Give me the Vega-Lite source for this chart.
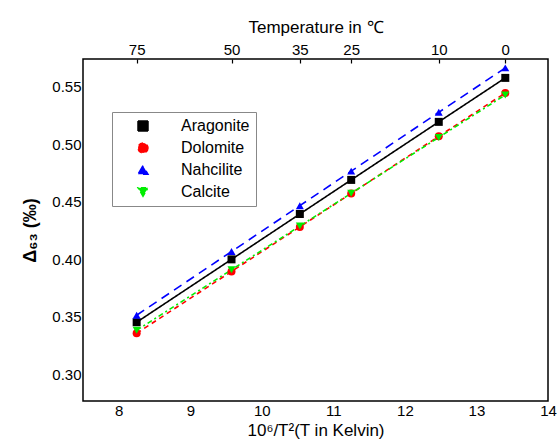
{
  "$schema": "https://vega.github.io/schema/vega-lite/v6.json",
  "autosize": "none",
  "width": 465,
  "height": 342,
  "padding": {"left": 83, "top": 59, "right": 9, "bottom": 43},
  "background": "white",
  "config": {
    "font": "Liberation Sans",
    "view": {"stroke": "black", "strokeWidth": 1.5},
    "axis": {"grid": false, "domain": false, "labelColor": "black", "titleColor": "black", "labelFont": "Liberation Sans", "titleFont": "Liberation Sans"}
  },
  "data": {
    "values": [
      {"mineral": "Aragonite", "x": 8.250, "y": 0.3454},
      {"mineral": "Aragonite", "x": 9.576, "y": 0.4000},
      {"mineral": "Aragonite", "x": 10.531, "y": 0.4394},
      {"mineral": "Aragonite", "x": 11.249, "y": 0.4690},
      {"mineral": "Aragonite", "x": 12.473, "y": 0.5194},
      {"mineral": "Aragonite", "x": 13.403, "y": 0.5576},
      {"mineral": "Dolomite", "x": 8.250, "y": 0.3358},
      {"mineral": "Dolomite", "x": 9.576, "y": 0.3895},
      {"mineral": "Dolomite", "x": 10.531, "y": 0.4282},
      {"mineral": "Dolomite", "x": 11.249, "y": 0.4573},
      {"mineral": "Dolomite", "x": 12.473, "y": 0.5069},
      {"mineral": "Dolomite", "x": 13.403, "y": 0.5445},
      {"mineral": "Nahcilite", "x": 8.250, "y": 0.3515},
      {"mineral": "Nahcilite", "x": 9.576, "y": 0.4068},
      {"mineral": "Nahcilite", "x": 10.531, "y": 0.4466},
      {"mineral": "Nahcilite", "x": 11.249, "y": 0.4766},
      {"mineral": "Nahcilite", "x": 12.473, "y": 0.5277},
      {"mineral": "Nahcilite", "x": 13.403, "y": 0.5663},
      {"mineral": "Calcite", "x": 8.250, "y": 0.3384},
      {"mineral": "Calcite", "x": 9.576, "y": 0.3910},
      {"mineral": "Calcite", "x": 10.531, "y": 0.4289},
      {"mineral": "Calcite", "x": 11.249, "y": 0.4574},
      {"mineral": "Calcite", "x": 12.473, "y": 0.5059},
      {"mineral": "Calcite", "x": 13.403, "y": 0.5428}
    ]
  },
  "resolve": {"axis": {"x": "independent"}},
  "layer": [
    {
      "mark": {"type": "line", "strokeWidth": 1.6, "clip": false},
      "encoding": {
        "x": {
          "field": "x", "type": "quantitative",
          "scale": {"domain": [7.5, 14], "nice": false, "zero": false},
          "axis": {"orient": "bottom", "values": [8, 9, 10, 11, 12, 13, 14], "ticks": false, "labelPadding": 2, "labelFontSize": 15, "labelFlush": false, "title": "10⁶/T²(T in Kelvin)", "titleFontSize": 17, "titleFontWeight": "normal", "titlePadding": 4}
        },
        "y": {
          "field": "y", "type": "quantitative",
          "scale": {"domain": [0.277, 0.574], "nice": false, "zero": false},
          "axis": {"values": [0.30, 0.35, 0.40, 0.45, 0.50, 0.55], "format": ".2f", "ticks": false, "labelPadding": 2, "labelFontSize": 15, "title": "Δ₆₃ (‰)", "titleFontSize": 18, "titleFontWeight": "bold", "titlePadding": 12}
        },
        "color": {
          "field": "mineral", "type": "nominal",
          "scale": {"domain": ["Aragonite", "Dolomite", "Nahcilite", "Calcite"], "range": ["#000000", "#ff0000", "#0000ff", "#00ee00"]}
        },
        "strokeDash": {
          "field": "mineral", "type": "nominal",
          "scale": {"domain": ["Aragonite", "Dolomite", "Nahcilite", "Calcite"], "range": [[1, 0], [5, 4], [9, 6], [5, 3, 2, 3]]},
          "legend": null
        }
      }
    },
    {
      "mark": {"type": "point", "filled": true, "opacity": 1, "size": 64},
      "encoding": {
        "x": {
          "field": "x", "type": "quantitative",
          "axis": {"orient": "top", "values": [8.250, 9.576, 10.531, 11.249, 12.473, 13.403], "labelExpr": "datum.value < 9 ? '75' : datum.value < 10 ? '50' : datum.value < 11 ? '35' : datum.value < 12 ? '25' : datum.value < 13 ? '10' : '0'", "ticks": true, "tickSize": -4, "tickColor": "black", "tickWidth": 1.2, "labelPadding": 6, "labelFontSize": 15, "title": "Temperature in ℃", "titleFontSize": 17, "titleFontWeight": "normal", "titlePadding": 6}
        },
        "y": {"field": "y", "type": "quantitative"},
        "color": {
          "field": "mineral", "type": "nominal",
          "legend": {
            "orient": "none", "legendX": 29, "legendY": 53,
            "title": null,
            "strokeColor": "#888888", "fillColor": "white", "padding": 6,
            "labelFontSize": 16, "labelFont": "Liberation Sans", "labelColor": "black",
            "symbolSize": 100, "symbolStrokeWidth": 1.5,
            "symbolOffset": 17, "labelOffset": 30, "rowPadding": 6
          }
        },
        "shape": {
          "field": "mineral", "type": "nominal",
          "scale": {"domain": ["Aragonite", "Dolomite", "Nahcilite", "Calcite"], "range": ["square", "circle", "triangle-up", "triangle-down"]},
          "legend": null
        }
      }
    }
  ]
}
